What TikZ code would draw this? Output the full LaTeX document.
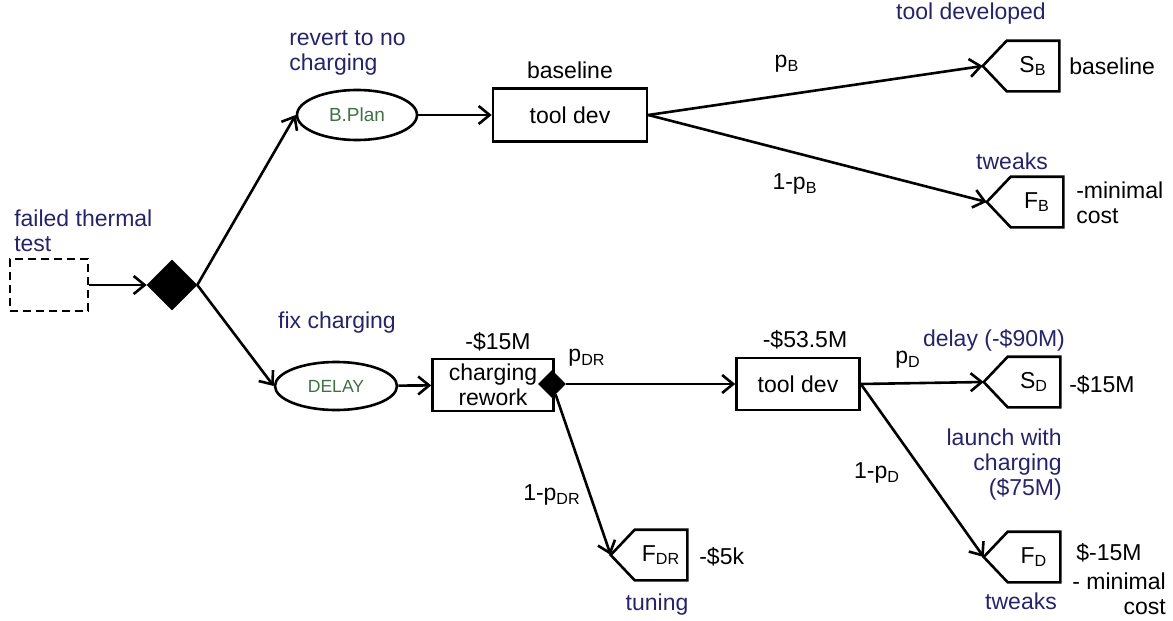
\documentclass[tikz,border=0pt]{standalone}
\usepackage{fontspec}
\setmainfont{Liberation Sans}
\usetikzlibrary{arrows.meta,shapes.geometric}
\definecolor{navy}{RGB}{38,36,104}
\definecolor{leaf}{RGB}{62,112,70}
\newcommand{\subs}[1]{\textsubscript{#1}}
% terminal payoff box: a rectangle with a pointed left side
\newcommand{\outcome}[3]{% name, centre, label
  \node[payoff] (#1) at (#2) {#3};
  \draw (#1.north west) -- (#1.north east) -- (#1.south east) -- (#1.south west)
     -- ([xshift=-12pt]#1.west) coordinate (#1tip) -- cycle;}
\begin{document}
\begin{tikzpicture}[x=0.5pt,y=-0.5pt,line width=1.3pt,line join=miter,
  font=\fontsize{11.5}{12.5}\selectfont,
  arr/.style={-{Straight Barb[length=5.5pt,width=9pt]}},
  note/.style={text=navy,align=left,inner sep=0pt},
  plain/.style={inner sep=0pt,align=center},
  act/.style={draw,rectangle,align=center,inner sep=0pt},
  plan/.style={draw,ellipse,inner sep=0pt,text=leaf},
  payoff/.style={minimum width=25pt,minimum height=24pt,inner sep=0pt},
  chance/.style={draw,fill=black,diamond,inner sep=0pt}]
\useasboundingbox (0,0) rectangle (1173,621);

% decision and activity nodes
\node[draw,dash pattern=on 4pt off 2.5pt,minimum width=39pt,minimum height=26pt,inner sep=0pt] (start) at (49,285) {};
\node[chance,minimum width=24pt,minimum height=24pt] (d0) at (172,285) {};
\node[plan,minimum width=60pt,minimum height=25pt,font=\fontsize{9.5}{11}\selectfont] (bplan) at (357,115) {B.Plan};
\node[plan,minimum width=61pt,minimum height=24pt,font=\fontsize{8.8}{10}\selectfont] (delay) at (336,386) {DELAY};
\node[act,minimum width=77pt,minimum height=26.5pt] (toolB) at (570,115) {tool dev};
\node[act,minimum width=60.5pt,minimum height=26pt] (rework) at (493,385) {charging\\rework};
\node[chance,minimum width=12.5pt,minimum height=12.5pt] (d1) at (552,384) {};
\node[act,minimum width=61.5pt,minimum height=26pt] (toolD) at (798,384) {tool dev};

% terminal outcomes
\outcome{SB}{1033,66}{S\subs{B}}
\outcome{FB}{1037,202}{F\subs{B}}
\outcome{SD}{1034,382}{S\subs{D}}
\outcome{FD}{1034,557}{F\subs{D}}
\outcome{FDR}{661,555}{F\subs{DR}}

% connectors
\draw[arr] (start.east) -- (d0.west);
\draw[arr] (d0.east) -- (bplan.west);
\draw[arr] (d0.east) -- (delay.west);
\draw[arr] (bplan) -- (toolB);
\draw[arr] (toolB.east) -- (SBtip);
\draw[arr] (toolB.east) -- (FBtip);
\draw[arr] (delay) -- (rework);
\draw[arr] (d1) -- (toolD);
\draw[arr] (d1) -- (FDRtip);
\draw[arr] (toolD.east) -- (SDtip);
\draw[arr] (toolD.east) -- (FDtip);

% labels
\node[note,anchor=west] (lblStart) at (13,231) {failed thermal\\test};
\node[note,anchor=west] (lblB) at (288,53) {revert to no\\charging};
\node[plain] (cB) at (570,70) {baseline};
\node[plain] (pB) at (787,64) {p\subs{B}};
\node[plain] (qB) at (795,184) {1-p\subs{B}};
\node[note] (lblSB) at (971,14) {tool developed};
\node[plain,anchor=west] (vSB) at (1068,66) {baseline};
\node[note] (lblFB) at (1012,161) {tweaks};
\node[plain,anchor=west,align=left] (vFB) at (1075,203) {-minimal\\cost};
\node[note] (lblD) at (337,323) {fix charging};
\node[plain] (cR) at (498,342) {-\$15M};
\node[plain] (pDR) at (587,358) {p\subs{DR}};
\node[plain] (qDR) at (552,495) {1-p\subs{DR}};
\node[plain,anchor=west] (vFDR) at (698,557) {-\$5k};
\node[note] (lblFDR) at (657,605) {tuning};
\node[plain] (cD) at (805,340) {-\$53.5M};
\node[plain] (pD) at (908,360) {p\subs{D}};
\node[plain] (qD) at (877,473) {1-p\subs{D}};
\node[note] (lblSD) at (994,340) {delay (-\$90M)};
\node[plain,anchor=west] (vSD) at (1068,385) {-\$15M};
\node[note,align=right,anchor=east] (lblFD1) at (1063,465) {launch with\\charging\\(\$75M)};
\node[note] (lblFD) at (1021,601) {tweaks};
\node[plain,anchor=west] (vFD) at (1075,553) {\$-15M};
\node[plain,anchor=east,align=right] (vFD2) at (1167,594) {- minimal\\cost};
\end{tikzpicture}
\end{document}
